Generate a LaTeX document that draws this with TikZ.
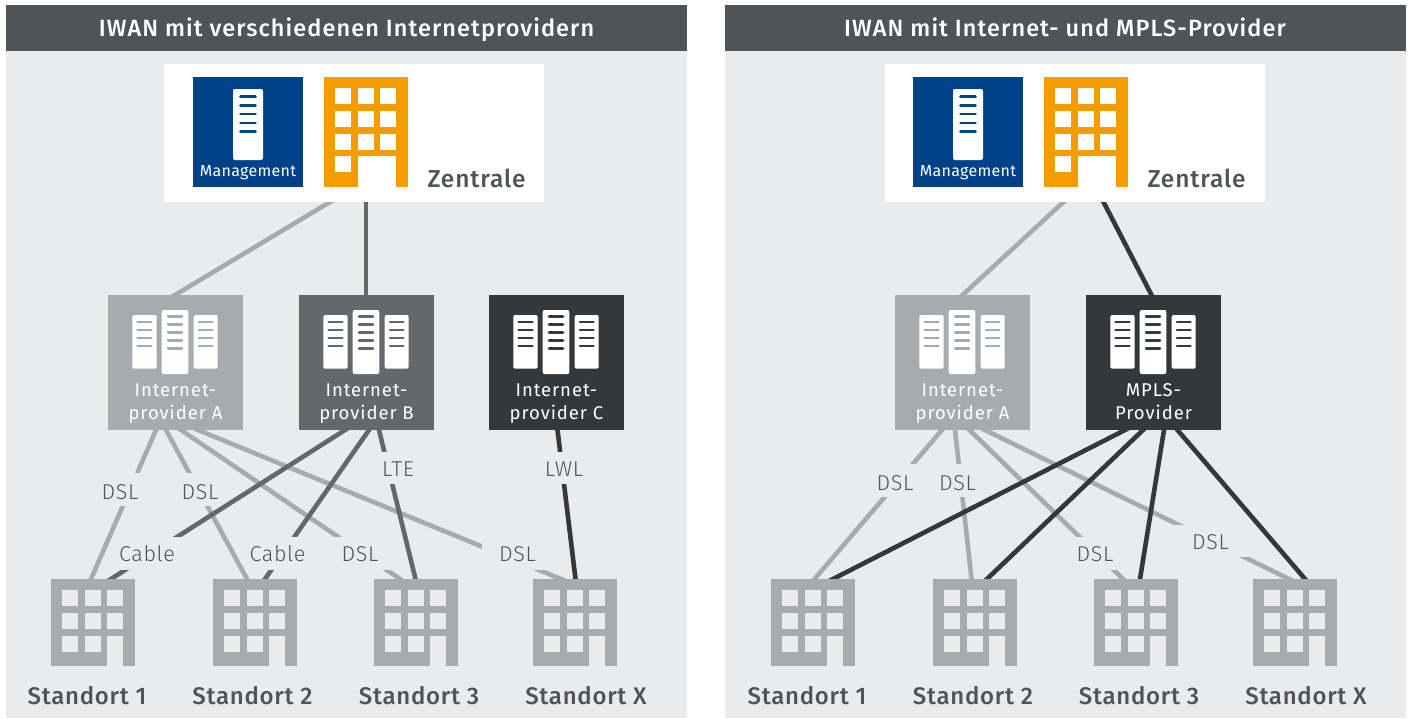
\documentclass[tikz,border=0pt]{standalone}
\usepackage{fontspec}
\setmainfont{Fira Sans}
\newfontfamily\lightf{Fira Sans Light}
\newfontfamily\medf{Fira Sans Medium}
\definecolor{panelc}{HTML}{E9EBED}
\definecolor{headc}{HTML}{4D5558}
\definecolor{lightc}{HTML}{A5ACAF}
\definecolor{midc}{HTML}{62696C}
\definecolor{darkc}{HTML}{33383C}
\definecolor{navyc}{HTML}{00428A}
\definecolor{orangec}{HTML}{F59C00}
\definecolor{textc}{HTML}{4D5558}
\pgfdeclarelayer{back}
\pgfdeclarelayer{lines}
\pgfsetlayers{back,lines,main}
\tikzset{
  box/.style={inner sep=0pt,outer sep=0pt,anchor=north west},
  conn/.style={line width=4.6pt,line cap=butt,shorten <=-4pt,shorten >=-4pt},
  lightl/.style={conn,draw=lightc},
  midl/.style={conn,draw=midc},
  darkl/.style={conn,draw=darkc},
  headtxt/.style={text=white,anchor=base,inner sep=0pt,font=\medf\fontsize{23.5}{25}\selectfont\addfontfeature{LetterSpace=4.6}},
  lbltxt/.style={text=textc,anchor=base,inner sep=0pt,font=\lightf\fontsize{21.5}{23}\selectfont\addfontfeature{LetterSpace=3}},
  sitetxt/.style={text=textc,anchor=base,inner sep=0pt,font=\medf\fontsize{24}{26}\selectfont\addfontfeature{LetterSpace=3}},
  hqtxt/.style={text=textc,anchor=base,inner sep=0pt,font=\medf\fontsize{24.5}{26}\selectfont\addfontfeature{LetterSpace=3.5}},
  provtxt/.style={text=white,anchor=base,inner sep=0pt,font=\fontsize{18.5}{20}\selectfont\addfontfeature{LetterSpace=5}},
  mgmttxt/.style={text=white,anchor=base,inner sep=0pt,font=\fontsize{16}{18}\selectfont\addfontfeature{LetterSpace=2}},
}
% site building: name, left x, label, label centre
\newcommand{\sitebld}[4]{%
  \node[box,fill=lightc,minimum width=84pt,minimum height=87pt] (#1) at (#2,579) {};
  \begin{scope}[shift={(#2,579)}]
    \foreach \wy in {10.7,33.7,56.7}{\foreach \wx in {10.7,33.7,56}{%
      \fill[panelc] (\wx,\wy) rectangle ++(16.3,16.3);}}
    \fill[panelc] (56,56.7) rectangle (72.3,87);
  \end{scope}
  \node[sitetxt] (#1t) at (#4,704) {#3};
}
% HQ: name prefix, x shift, white box left
\newcommand{\hq}[3]{%
  \node[box,fill=white,minimum width=380pt,minimum height=138pt] (#1w) at (#3,64) {};
  \node[box,fill=navyc,minimum width=110pt,minimum height=110pt] (#1m) at (#2+193,77) {};
  \begin{scope}[shift={(#2+193,77)}]
    \fill[white,rounded corners=2pt] (40,12) rectangle (70,83);
    \foreach \ly in {19.7,28.4,37,46,54.7}{\draw[navyc,line width=2.7pt,line cap=round] (47.5,\ly) -- (62.5,\ly);}
  \end{scope}
  \node[mgmttxt] (#1mt) at (#2+248,176) {Management};
  \node[box,fill=orangec,minimum width=84pt,minimum height=110pt] (#1b) at (#2+324,77) {};
  \begin{scope}[shift={(#2+324,77)}]
    \foreach \wy in {11,34,57}{\foreach \wx in {11,34,56}{%
      \fill[white] (\wx,\wy) rectangle ++(16,16);}}
    \fill[white] (11,79) rectangle ++(16,16);
    \fill[white] (34,79) rectangle (72,110);
  \end{scope}
  \node[hqtxt] (#1z) at (#2+476.5,187) {Zentrale};
}
% provider: name, left x, colour, line1, line2
\newcommand{\prov}[5]{%
  \node[box,fill=#3,minimum width=135pt,minimum height=135pt] (#1) at (#2,295) {};
  \begin{scope}[shift={(#2,295)}]
    \fill[white,rounded corners=2pt] (24.3,20) rectangle (48.7,73.7);
    \fill[white,rounded corners=2pt] (53.7,15) rectangle (80.3,79);
    \fill[white,rounded corners=2pt] (85.7,20) rectangle (109.7,73.7);
    \foreach \ly in {27,35,43,51}{%
      \draw[#3,line width=2.5pt,line cap=round] (29.5,\ly) -- (43.5,\ly);
      \draw[#3,line width=2.5pt,line cap=round] (91,\ly) -- (104.5,\ly);}
    \foreach \ly in {21.7,29.7,37.7,45.7,53.7}{%
      \draw[#3,line width=2.5pt,line cap=round] (60,\ly) -- (74,\ly);}
  \end{scope}
  \node[provtxt] (#1a) at (#2+67.5,396.7) {#4};
  \node[provtxt] (#1c) at (#2+67.5,419.5) {#5};
}
% connector: style, from node, x, to node, x
\newcommand{\cn}[5]{\draw[#1] (#3,0 |- #2) -- (#5,0 |- #4);}
% label with its gap: name, text x, baseline, text, gap x0,x1,y0,y1
\newcommand{\gaplbl}[8]{%
  \fill[panelc] (#5,#7) rectangle (#6,#8);
  \node[lbltxt] (#1) at (#2,#3) {#4};
}
\begin{document}
\begin{tikzpicture}[x=1pt,y=-1pt]
\useasboundingbox (0,0) rectangle (1408,718);
\begin{pgfonlayer}{back}
  \fill[white] (0,0) rectangle (1408,718);
  \fill[panelc] (6,51) rectangle (687,718);
  \fill[panelc] (725,51) rectangle (1406,718);
  \fill[headc] (6,5) rectangle (687,51);
  \fill[headc] (725,5) rectangle (1406,51);
\end{pgfonlayer}
\node[headtxt] (h1) at (346.5,36.5) {IWAN mit verschiedenen Internetprovidern};
\node[headtxt] (h2) at (1065,36.5) {IWAN mit Internet- und MPLS-Provider};

\hq{l}{0}{164}
\hq{r}{720}{885}

\prov{pa}{108}{lightc}{Internet-}{provider A}
\prov{pb}{299}{midc}{Internet-}{provider B}
\prov{pc}{489}{darkc}{Internet-}{provider C}
\prov{qa}{895}{lightc}{Internet-}{provider A}
\prov{qm}{1086}{darkc}{MPLS-}{Provider}

\sitebld{s1}{51}{Standort 1}{87}
\sitebld{s2}{213}{Standort 2}{252.5}
\sitebld{s3}{374}{Standort 3}{419}
\sitebld{s4}{533}{Standort X}{586}
\sitebld{t1}{771}{Standort 1}{807}
\sitebld{t2}{933}{Standort 2}{973}
\sitebld{t3}{1094}{Standort 3}{1139}
\sitebld{t4}{1253}{Standort X}{1306}

\begin{pgfonlayer}{lines}
  % left panel, light
  \cn{lightl}{lw.south}{330}{pa.north}{175}
  \cn{lightl}{pa.south}{156}{s1.north}{91}
  \cn{lightl}{pa.south}{166}{s2.north}{247}
  \cn{lightl}{pa.south}{181}{s3.north}{400}
  \cn{lightl}{pa.south}{198}{s4.north}{561}
  \gaplbl{d1}{120}{499}{DSL}{96}{146}{473}{506}
  \gaplbl{d2}{200}{499}{DSL}{176}{224}{473}{506}
  \gaplbl{d3}{360}{561.7}{DSL}{325}{395}{537}{570}
  \gaplbl{d4}{517.5}{561.7}{DSL}{482}{552}{537}{570}
  % left panel, dark
  \cn{midl}{lw.south}{366}{pb.north}{366}
  \cn{midl}{pb.south}{345}{s1.north}{111}
  \cn{midl}{pb.south}{369}{s2.north}{265}
  \cn{midl}{pb.south}{379}{s3.north}{415.5}
  \cn{darkl}{pc.south}{557.5}{s4.north}{575.5}
  \gaplbl{c1}{147}{561.7}{Cable}{115}{195}{537}{570}
  \gaplbl{c2}{277.5}{561.7}{Cable}{248}{310}{537}{570}
  \gaplbl{e1}{398}{476.7}{LTE}{376}{420}{452}{484}
  \gaplbl{e2}{564}{476.7}{LWL}{540}{590}{452}{484}
  % right panel, light
  \cn{lightl}{rw.south}{1063.5}{qa.north}{962.5}
  \cn{lightl}{qa.south}{942}{t1.north}{814.5}
  \cn{lightl}{qa.south}{955}{t2.north}{971.5}
  \cn{lightl}{qa.south}{969.5}{t3.north}{1123}
  \cn{lightl}{qa.south}{985}{t4.north}{1289}
  \gaplbl{f1}{895}{490}{DSL}{870}{920}{464.3}{496.7}
  \gaplbl{f2}{957.5}{490}{DSL}{935}{980}{464.3}{496.7}
  \gaplbl{f3}{1095}{561.7}{DSL}{1072}{1118}{537}{570}
  \gaplbl{f4}{1210.5}{549}{DSL}{1172}{1251}{524.7}{557.3}
  % right panel, dark
  \cn{darkl}{rw.south}{1103.5}{qm.north}{1151.5}
  \cn{darkl}{qm.south}{1125}{t1.north}{833}
  \cn{darkl}{qm.south}{1143}{t2.north}{987}
  \cn{darkl}{qm.south}{1164}{t3.north}{1140}
  \cn{darkl}{qm.south}{1177.5}{t4.north}{1305}
\end{pgfonlayer}
\end{tikzpicture}
\end{document}
